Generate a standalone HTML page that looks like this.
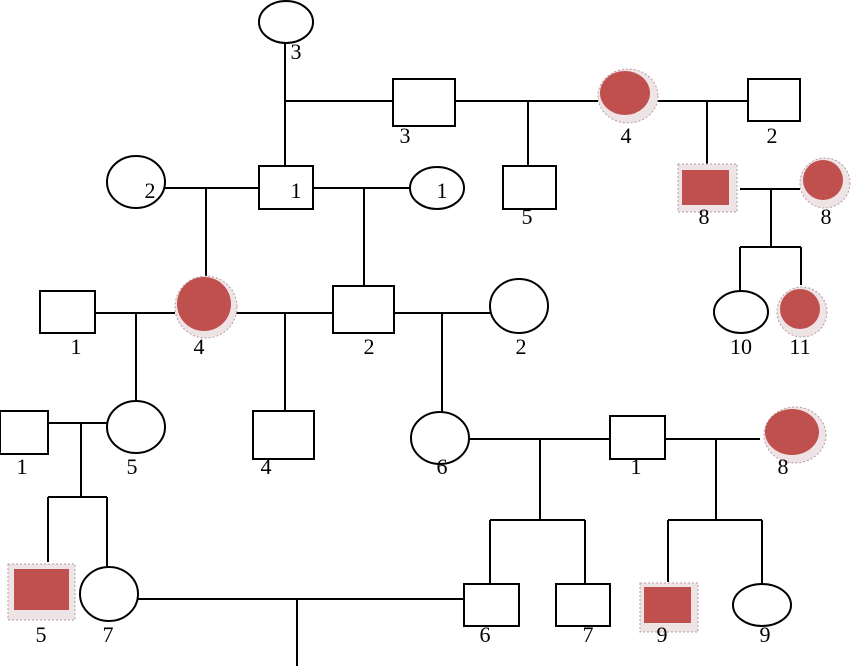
<!DOCTYPE html>
<html><head><meta charset="utf-8"><style>
html,body{margin:0;padding:0;background:#fff;}
svg{display:block;}
text{font-family:"Liberation Serif",serif;font-size:22px;fill:#000;text-anchor:middle;}
</style></head><body>
<svg width="853" height="666" viewBox="0 0 853 666" xmlns="http://www.w3.org/2000/svg">
<g stroke="#000" stroke-width="2" fill="none">
<line x1="285" y1="43" x2="285" y2="166"/>
<line x1="285" y1="101" x2="393" y2="101"/>
<line x1="455" y1="101" x2="598" y2="101"/>
<line x1="528" y1="101" x2="528" y2="166"/>
<line x1="656" y1="101" x2="748" y2="101"/>
<line x1="707" y1="101" x2="707" y2="166"/>
<line x1="740" y1="189" x2="800" y2="189"/>
<line x1="771" y1="189" x2="771" y2="247"/>
<line x1="740" y1="247" x2="801" y2="247"/>
<line x1="740" y1="247" x2="740" y2="291"/>
<line x1="801" y1="247" x2="801" y2="285"/>
<line x1="165" y1="188" x2="259" y2="188"/>
<line x1="206" y1="188" x2="206" y2="278"/>
<line x1="313" y1="188" x2="410" y2="188"/>
<line x1="364" y1="188" x2="364" y2="286"/>
<line x1="95" y1="313" x2="175" y2="313"/>
<line x1="136" y1="313" x2="136" y2="401"/>
<line x1="235" y1="313" x2="333" y2="313"/>
<line x1="285" y1="313" x2="285" y2="411"/>
<line x1="394" y1="313" x2="490" y2="313"/>
<line x1="442" y1="313" x2="442" y2="412"/>
<line x1="48" y1="423" x2="107" y2="423"/>
<line x1="81" y1="423" x2="81" y2="497"/>
<line x1="48" y1="497" x2="107" y2="497"/>
<line x1="48" y1="497" x2="48" y2="562"/>
<line x1="107" y1="497" x2="107" y2="567"/>
<line x1="469" y1="439" x2="610" y2="439"/>
<line x1="540" y1="439" x2="540" y2="520"/>
<line x1="490" y1="520" x2="585" y2="520"/>
<line x1="490" y1="520" x2="490" y2="584"/>
<line x1="585" y1="520" x2="585" y2="584"/>
<line x1="665" y1="439" x2="760" y2="439"/>
<line x1="716" y1="439" x2="716" y2="520"/>
<line x1="668" y1="520" x2="762" y2="520"/>
<line x1="668" y1="520" x2="668" y2="582"/>
<line x1="762" y1="520" x2="762" y2="584"/>
<line x1="138" y1="599" x2="464" y2="599"/>
<line x1="297" y1="599" x2="297" y2="666"/>
<ellipse cx="286" cy="22" rx="27" ry="21"/>
<rect x="393" y="79" width="62" height="47"/>
<rect x="503" y="166" width="53" height="43"/>
<rect x="748" y="79" width="52" height="42"/>
<ellipse cx="136" cy="182" rx="29" ry="26"/>
<rect x="259" y="166" width="54" height="43"/>
<ellipse cx="437" cy="188" rx="27" ry="21"/>
<ellipse cx="741" cy="312" rx="27" ry="21"/>
<rect x="40" y="291" width="55" height="42"/>
<rect x="333" y="286" width="61" height="47"/>
<ellipse cx="519" cy="306" rx="29" ry="27"/>
<rect x="0" y="411" width="48" height="43"/>
<ellipse cx="136" cy="427" rx="29" ry="26"/>
<rect x="253" y="411" width="61" height="48"/>
<ellipse cx="440" cy="438" rx="29" ry="26"/>
<rect x="610" y="416" width="55" height="43"/>
<ellipse cx="109" cy="594" rx="29" ry="27"/>
<rect x="464" y="584" width="55" height="42"/>
<rect x="556" y="584" width="54" height="42"/>
<ellipse cx="762" cy="605" rx="29" ry="21"/>
</g>
<g>
<ellipse cx="628" cy="96" rx="30" ry="27" fill="#eee4e6" stroke="#b89ca3" stroke-width="1" stroke-dasharray="2 2"/>
<ellipse cx="625" cy="93" rx="25" ry="22" fill="#c0504d"/>
<rect x="678" y="164" width="59" height="48" fill="#eee4e6" stroke="#b89ca3" stroke-width="1" stroke-dasharray="2 2"/>
<rect x="682" y="170" width="47" height="35" fill="#c0504d"/>
<circle cx="825" cy="183" r="25" fill="#eee4e6" stroke="#b89ca3" stroke-width="1" stroke-dasharray="2 2"/>
<circle cx="823" cy="180" r="20" fill="#c0504d"/>
<circle cx="802" cy="312" r="25" fill="#eee4e6" stroke="#b89ca3" stroke-width="1" stroke-dasharray="2 2"/>
<circle cx="800" cy="309" r="20" fill="#c0504d"/>
<ellipse cx="206" cy="307" rx="31" ry="31" fill="#eee4e6" stroke="#b89ca3" stroke-width="1" stroke-dasharray="2 2"/>
<circle cx="204" cy="304" r="27" fill="#c0504d"/>
<ellipse cx="795" cy="435" rx="31" ry="28" fill="#eee4e6" stroke="#b89ca3" stroke-width="1" stroke-dasharray="2 2"/>
<ellipse cx="792" cy="432" rx="27" ry="23" fill="#c0504d"/>
<rect x="8" y="564" width="67" height="56" fill="#eee4e6" stroke="#b89ca3" stroke-width="1" stroke-dasharray="2 2"/>
<rect x="14" y="569" width="55" height="41" fill="#c0504d"/>
<rect x="640" y="583" width="58" height="49" fill="#eee4e6" stroke="#b89ca3" stroke-width="1" stroke-dasharray="2 2"/>
<rect x="644" y="587" width="47" height="36" fill="#c0504d"/>
</g>
<text x="296" y="59">3</text>
<text x="405" y="143">3</text>
<text x="626" y="143">4</text>
<text x="772" y="143">2</text>
<text x="150" y="198">2</text>
<text x="296" y="198">1</text>
<text x="442" y="198">1</text>
<text x="527" y="224">5</text>
<text x="704" y="224">8</text>
<text x="826" y="224">8</text>
<text x="76" y="354">1</text>
<text x="199" y="354">4</text>
<text x="369" y="354">2</text>
<text x="521" y="354">2</text>
<text x="741" y="354">10</text>
<text x="800" y="354">11</text>
<text x="22" y="474">1</text>
<text x="132" y="474">5</text>
<text x="266" y="474">4</text>
<text x="442" y="474">6</text>
<text x="636" y="474">1</text>
<text x="783" y="474">8</text>
<text x="41" y="642">5</text>
<text x="108" y="642">7</text>
<text x="485" y="642">6</text>
<text x="588" y="642">7</text>
<text x="662" y="642">9</text>
<text x="765" y="642">9</text>
</svg>
</body></html>
